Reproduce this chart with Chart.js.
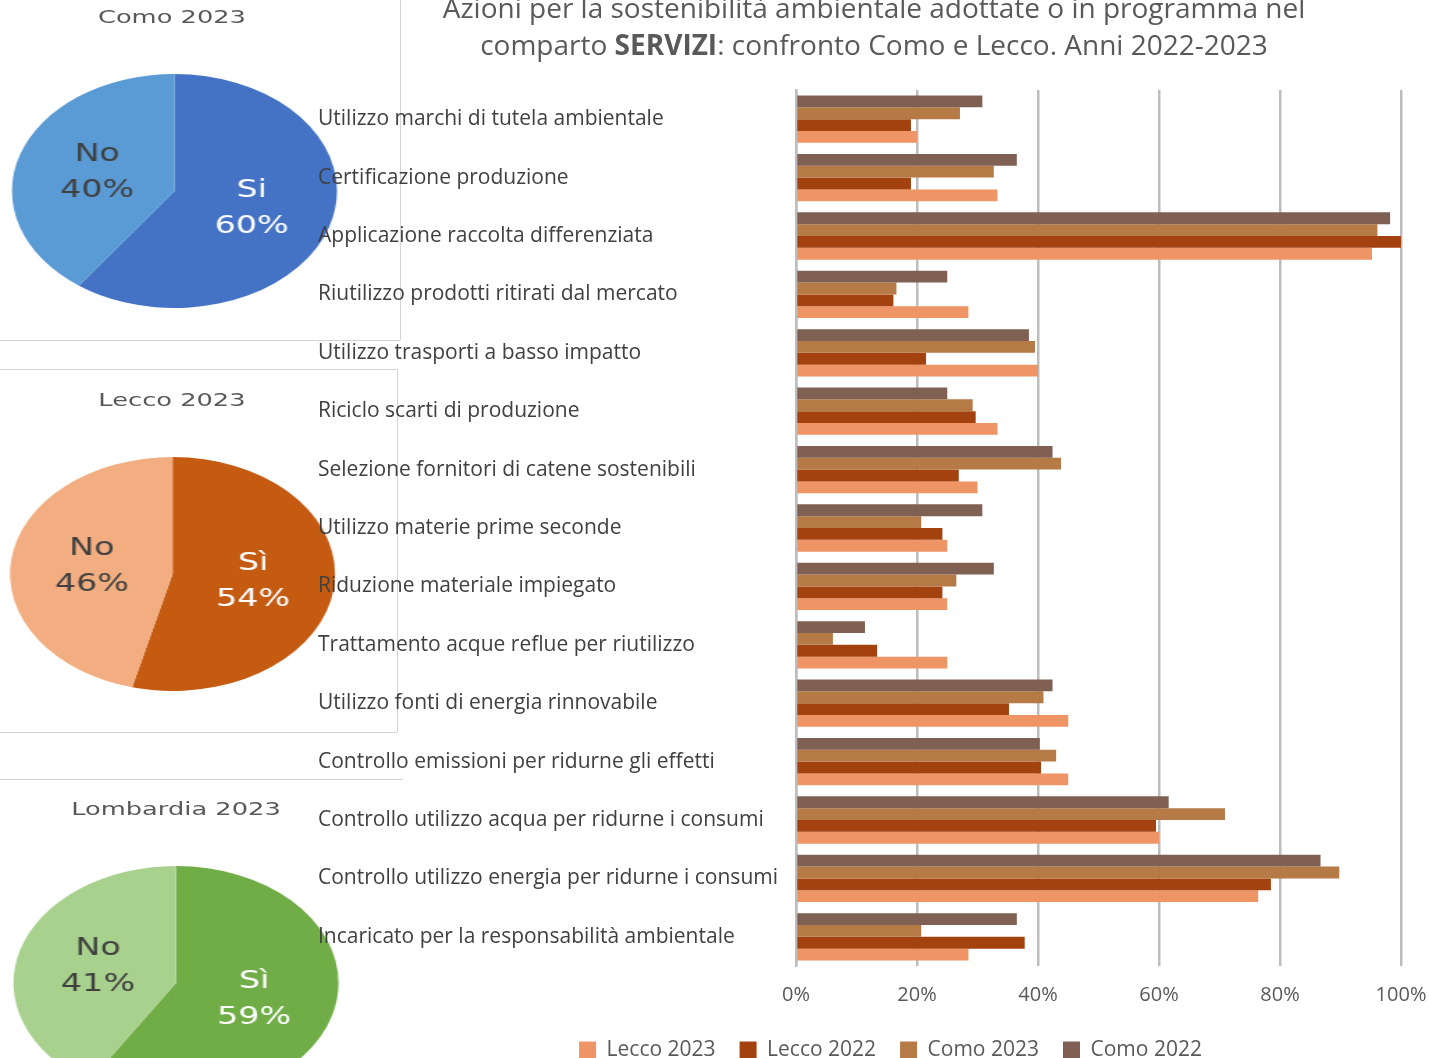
<!DOCTYPE html>
<html lang="it">
<head>
<meta charset="utf-8">
<title>Azioni per la sostenibilità ambientale - comparto Servizi</title>
<script src="https://cdn.jsdelivr.net/npm/chart.js@4.4.1/dist/chart.umd.min.js"></script>
<style>
  html, body { margin: 0; padding: 0; background: #fff; }
  #stage { position: relative; width: 1429px; height: 1058px; overflow: hidden; background: #fff; }
  .panel { position: absolute; left: 0; transform-origin: 0 0; transform: scaleX(1.389); }
  .panel canvas { position: absolute; left: 0; top: 0; }
  .ptitle { position: absolute; transform: translateX(-50%); white-space: nowrap;
            font-family: 'DejaVu Sans', sans-serif; font-size: 18.5px; color: #595959; }
  .line { position: absolute; background: #d4d4d4; }
  #title { position: absolute; left: 400px; width: 948px; top: -11px; text-align: center;
           font-family: 'Open Sans', sans-serif; font-size: 28px; line-height: 37px; color: #595959; }
  #barChart { position: absolute; left: 310px; top: 0; }
</style>
</head>
<body>
<div id="stage">
  <!-- pie panels (stretched horizontally like the source picture) -->
  <div class="panel" style="top:0;width:290px;height:340px">
    <div class="ptitle" style="left:123.8px;top:6px">Como 2023</div>
    <canvas id="pieComo" width="290" height="340"></canvas>
  </div>
  <div class="panel" style="top:369px;width:290px;height:363px">
    <div class="ptitle" style="left:123.8px;top:20px">Lecco 2023</div>
    <canvas id="pieLecco" width="290" height="363"></canvas>
  </div>
  <div class="panel" style="top:779px;width:290px;height:340px">
    <div class="ptitle" style="left:126.7px;top:19px">Lombardia 2023</div>
    <canvas id="pieLombardia" width="290" height="340"></canvas>
  </div>

  <!-- thin frame lines between the panels -->
  <div class="line" style="left:400px;top:0;width:1px;height:340px"></div>
  <div class="line" style="left:0;top:340px;width:400px;height:1px"></div>
  <div class="line" style="left:0;top:369px;width:397px;height:1px"></div>
  <div class="line" style="left:397px;top:369px;width:1px;height:363px"></div>
  <div class="line" style="left:0;top:732px;width:397px;height:1px"></div>
  <div class="line" style="left:0;top:779px;width:403px;height:1px"></div>

  <div id="title">Azioni per la sostenibilità ambientale adottate o in programma nel<br>comparto <b>SERVIZI</b>: confronto Como e Lecco. Anni 2022-2023</div>

  <canvas id="barChart" width="1156" height="1071"></canvas>
</div>

<script>
// Categories of the bar chart (top to bottom)
const categories = [
    'Utilizzo marchi di tutela ambientale',
    'Certificazione produzione',
    'Applicazione raccolta differenziata',
    'Riutilizzo prodotti ritirati dal mercato',
    'Utilizzo trasporti a basso impatto',
    'Riciclo scarti di produzione',
    'Selezione fornitori di catene sostenibili',
    'Utilizzo materie prime seconde',
    'Riduzione materiale impiegato',
    'Trattamento acque reflue per riutilizzo',
    'Utilizzo fonti di energia rinnovabile',
    'Controllo emissioni per ridurne gli effetti',
    'Controllo utilizzo acqua per ridurne i consumi',
    'Controllo utilizzo energia per ridurne i consumi',
    'Incaricato per la responsabilità ambientale'
];

// Percent of firms, one value per category
const como2022 = [30.8, 36.5, 98.2, 25.0, 38.5, 25.0, 42.4, 30.8, 32.7, 11.4, 42.4, 40.3, 61.6, 86.7, 36.5];
const como2023 = [27.1, 32.7, 96.1, 16.6, 39.5, 29.2, 43.8, 20.7, 26.5, 6.1, 40.9, 43.0, 70.9, 89.8, 20.7];
const lecco2022 = [19.0, 19.0, 100, 16.1, 21.5, 29.7, 26.9, 24.2, 24.2, 13.4, 35.2, 40.5, 59.5, 78.5, 37.8];
const lecco2023 = [20.0, 33.3, 95.2, 28.5, 40.0, 33.3, 30.0, 25.0, 25.0, 25.0, 45.0, 45.0, 60.0, 76.4, 28.5];

// x axis ticks (percent)
const xTicks = [0, 20, 40, 60, 80, 100];

// Pie charts: share of firms with at least one action
const comoLabels = ['Si', 'No'];
const comoPie = [60, 40];
const leccoLabels = ['Sì', 'No'];
const leccoPie = [54, 46];
const lombardiaLabels = ['Sì', 'No'];
const lombardiaPie = [59, 41];

const textGrey = '#595959';
const labelGrey = '#404040';
Chart.defaults.font.family = "'Open Sans', sans-serif";

// writes "label / value%" inside each slice
const sliceLabels = {
    id: 'sliceLabels',
    afterDatasetsDraw(chart, args, opts) {
        const ctx = chart.ctx;
        const meta = chart.getDatasetMeta(0);
        const values = chart.data.datasets[0].data;
        ctx.save();
        ctx.font = "24px 'DejaVu Sans'";
        ctx.textAlign = 'center';
        ctx.textBaseline = 'middle';
        meta.data.forEach((arc, i) => {
            const p = arc.getCenterPoint();
            ctx.fillStyle = opts.colors[i];
            ctx.fillText(chart.data.labels[i], p.x, p.y - 18);
            ctx.fillText(values[i] + '%', p.x, p.y + 18);
        });
        ctx.restore();
    }
};

function makePie(id, labels, values, colors, padding) {
    return new Chart(document.getElementById(id), {
        type: 'pie',
        data: {
            labels: labels,
            datasets: [{
                data: values,
                backgroundColor: colors,
                borderWidth: 0
            }]
        },
        options: {
            responsive: false,
            animation: false,
            layout: { padding: padding },
            plugins: {
                legend: { display: false },
                tooltip: { enabled: false },
                sliceLabels: { colors: ['#ffffff', '#404040'] }
            }
        },
        plugins: [sliceLabels]
    });
}

makePie('pieComo', comoLabels, comoPie, ['#4472C4', '#5B9BD5'],
    { left: 8.6, right: 47.4, top: 74, bottom: 32 });
makePie('pieLecco', leccoLabels, leccoPie, ['#C55A11', '#F2AE80'],
    { left: 7.2, right: 48.8, top: 88, bottom: 41 });
makePie('pieLombardia', lombardiaLabels, lombardiaPie, ['#70AD47', '#A9D18E'],
    { left: 9.7, right: 46.3, top: 87, bottom: 19 });

// nudges the bottom legend to the right, as in the source
const legendShift = {
    id: 'legendShift',
    afterLayout(chart, args, opts) {
        chart.legend.left += opts.dx;
        chart.legend.right += opts.dx;
    }
};

// shared look of the four bar series
function barSeries(label, values, colour) {
    return {
        label: label,
        data: values,
        backgroundColor: colour,
        borderWidth: 0,
        categoryPercentage: 0.81,
        barPercentage: 1.0
    };
}

new Chart(document.getElementById('barChart'), {
    type: 'bar',
    data: {
        labels: categories,
        datasets: [
            barSeries('Como 2022', como2022, '#7F6052'),
            barSeries('Como 2023', como2023, '#B57A45'),
            barSeries('Lecco 2022', lecco2022, '#A4420F'),
            barSeries('Lecco 2023', lecco2023, '#EF9464')
        ]
    },
    options: {
        indexAxis: 'y',
        responsive: false,
        animation: false,
        layout: { padding: { left: 8, right: 65, top: 90, bottom: 0 } },
        scales: {
            x: {
                min: xTicks[0],
                max: xTicks[xTicks.length - 1],
                afterBuildTicks: (scale) => { scale.ticks = xTicks.map(v => ({ value: v })); },
                ticks: {
                    callback: (v) => v + '%',
                    color: textGrey,
                    font: { size: 20 },
                    padding: 17
                },
                grid: { color: '#BDBDBD', lineWidth: 2.5, drawTicks: false },
                border: { display: false },
                afterFit: (scale) => { scale.height = 50; }
            },
            y: {
                ticks: {
                    crossAlign: 'far',
                    color: labelGrey,
                    font: { size: 21 },
                    padding: 0
                },
                grid: { display: false },
                border: { display: true, color: '#BDBDBD', width: 2.5 },
                afterFit: (scale) => { scale.width = 478; }
            }
        },
        plugins: {
            legend: {
                position: 'bottom',
                reverse: true,
                labels: {
                    boxWidth: 17,
                    boxHeight: 18,
                    padding: 24,
                    color: textGrey,
                    font: { size: 21 }
                }
            },
            tooltip: { enabled: false },
            legendShift: { dx: 31 }
        }
    },
    plugins: [legendShift]
});
</script>
</body>
</html>
